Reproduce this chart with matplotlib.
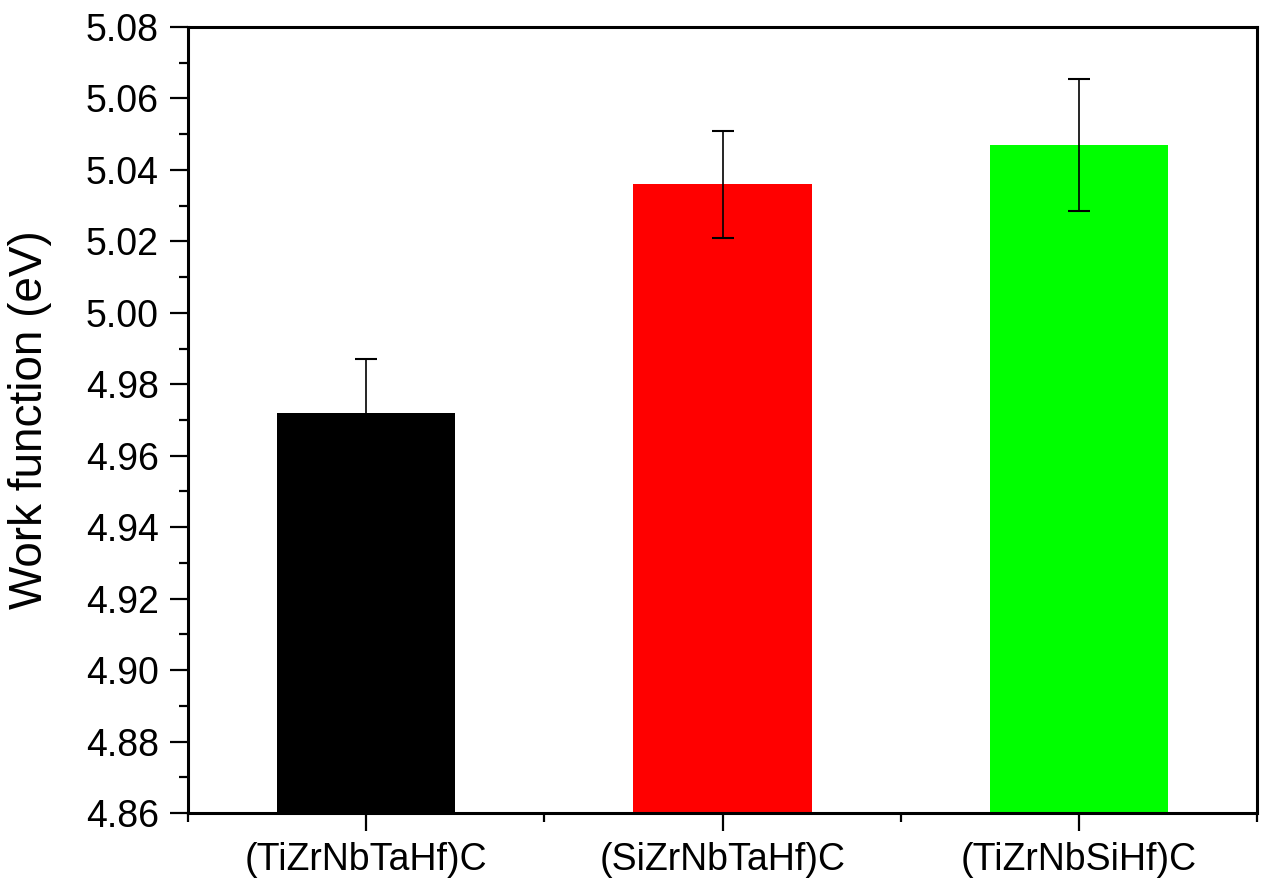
import matplotlib
matplotlib.use("Agg")
import matplotlib.pyplot as plt
from matplotlib.ticker import MultipleLocator, FixedLocator

plt.rcParams['font.family'] = ['Liberation Sans', 'DejaVu Sans']

categories = ["(TiZrNbTaHf)C", "(SiZrNbTaHf)C", "(TiZrNbSiHf)C"]
values = [4.972, 5.036, 5.047]
errors = [0.015, 0.015, 0.0185]
colors = ["#000000", "#FF0000", "#00FF00"]

fig = plt.figure(figsize=(12.64, 8.8), dpi=100)
ax = fig.add_axes([0.1487, 0.0761, 0.8458, 0.8932])

x = [1, 2, 3]
ax.bar(x, values, width=0.5, color=colors, zorder=2)
ax.errorbar(x, values, yerr=errors, fmt='none', ecolor='#000000',
            elinewidth=1.2, capsize=8, capthick=1.5, zorder=3)

ax.set_xlim(0.5, 3.5)
ax.set_ylim(4.86, 5.08)
ax.set_xticks(x)
ax.set_xticklabels(categories)
ax.xaxis.set_minor_locator(FixedLocator([0.5, 1.5, 2.5, 3.5]))
ax.yaxis.set_major_locator(MultipleLocator(0.02))
ax.yaxis.set_minor_locator(MultipleLocator(0.01))
ax.yaxis.set_major_formatter(matplotlib.ticker.FormatStrFormatter('%.2f'))

for s in ax.spines.values():
    s.set_linewidth(2.2)
ax.tick_params(which='major', direction='out', length=13, width=1.6,
               labelsize=27, pad=8)
ax.tick_params(which='minor', direction='out', length=6.5, width=1.6)
ax.tick_params(top=False, right=False, which='both')

ax.set_ylabel("Work function (eV)", fontsize=33, labelpad=24)

fig.savefig("out.png", dpi=100)
